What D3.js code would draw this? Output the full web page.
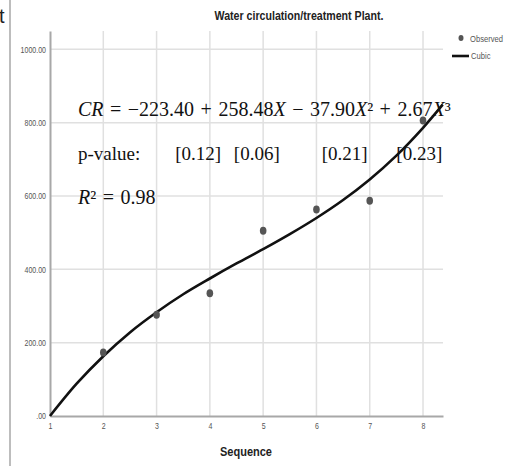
<!DOCTYPE html>
<html>
<head>
<meta charset="utf-8">
<script src="https://cdn.jsdelivr.net/npm/d3@7"></script>
<style>
  body { margin: 0; background: #fff; }
  svg { display: block; }
  .narrow { font-family: "Liberation Sans Narrow", "Arial Narrow", "Liberation Sans", sans-serif; }
</style>
</head>
<body>
<div id="chart-wrapper"></div>
<script>
// observed values
var seq = [2, 3, 4, 5, 6, 7, 8];
var observed = [173, 276, 335, 505, 563, 587, 806];

// fitted cubic line
var fitX = [1, 1.5, 2, 2.5, 3, 3.5, 4, 4.5, 5, 5.5, 6, 6.5, 7, 7.5, 8, 8.37];
var fitY = [0, 88, 163, 228, 283, 332, 375, 416, 455, 496, 540, 589, 645, 710, 786, 849];

var yTicks = [0, 200, 400, 600, 800, 1000];
var yTickLabels = [".00", "200.00", "400.00", "600.00", "800.00", "1000.00"];
var xTicks = [1, 2, 3, 4, 5, 6, 7, 8];
var pValues = ["[0.12]", "[0.06]", "[0.21]", "[0.23]"];
var pValueAt = [3.35, 4.45, 6.1, 7.5];

var W = 506, H = 466;
var margin = {top: 31, right: 63, bottom: 50, left: 50},
    width = W - margin.left - margin.right,
    height = H - margin.top - margin.bottom;

// squeeze a text so a plain sans looks like the condensed face of the original
function squeeze(sel, f) {
  sel.each(function () {
    var len = this.getComputedTextLength();
    d3.select(this).attr("textLength", len * f).attr("lengthAdjust", "spacingAndGlyphs");
  });
}

var root = d3.select("#chart-wrapper")
  .append("svg")
    .attr("width", W)
    .attr("height", H);

// scrap of the page this figure was cut from
root.append("line")
  .attr("x1", 10).attr("x2", 10).attr("y1", 0).attr("y2", H)
  .attr("stroke", "#bdbdbd").attr("stroke-width", 2);
root.append("text")
  .attr("x", -1).attr("y", 23)
  .style("font-family", "Liberation Sans, sans-serif")
  .style("font-size", "20px")
  .attr("fill", "#222")
  .text("t");

var svg = root.append("g")
  .attr("transform", `translate(${margin.left},${margin.top})`);

var x = d3.scaleLinear().domain([1, 8.375]).range([0, width]);
var y = d3.scaleLinear().domain([0, 1050]).range([height, 0]);

// grid
svg.selectAll("vgrid").data(xTicks.slice(1)).enter()
  .append("line")
  .attr("x1", d => x(d)).attr("x2", d => x(d))
  .attr("y1", 0).attr("y2", height)
  .attr("stroke", "#e0e0e0").attr("stroke-width", 1.5);
svg.selectAll("hgrid").data(yTicks.slice(1)).enter()
  .append("line")
  .attr("x1", 0).attr("x2", width)
  .attr("y1", d => y(d)).attr("y2", d => y(d))
  .attr("stroke", "#e0e0e0").attr("stroke-width", 1.5);

// axes
var xAxis = svg.append("g")
  .attr("transform", `translate(0,${height})`)
  .call(d3.axisBottom(x).tickValues(xTicks).tickFormat(d3.format("d")).tickSize(0).tickPadding(7));
var yAxis = svg.append("g")
  .call(d3.axisLeft(y).tickValues(yTicks).tickFormat((d, i) => yTickLabels[i]).tickSize(0).tickPadding(4));
[xAxis, yAxis].forEach(function (a) {
  a.select(".domain").attr("stroke", "#a8a8a8").attr("stroke-width", 2);
  a.selectAll("text")
    .attr("class", "narrow")
    .style("font-size", "9px")
    .attr("fill", "#555")
    .call(squeeze, 0.78);
});

// title and axis title
root.append("text")
  .attr("class", "narrow")
  .attr("x", 299).attr("y", 20)
  .attr("text-anchor", "middle")
  .style("font-size", "12px").style("font-weight", "bold")
  .attr("fill", "#222")
  .text("Water circulation/treatment Plant.")
  .attr("textLength", 169).attr("lengthAdjust", "spacingAndGlyphs");
root.append("text")
  .attr("class", "narrow")
  .attr("x", 246).attr("y", 456)
  .attr("text-anchor", "middle")
  .style("font-size", "12px").style("font-weight", "bold")
  .attr("fill", "#222")
  .text("Sequence")
  .attr("textLength", 52).attr("lengthAdjust", "spacingAndGlyphs");

// fitted line
svg.append("path")
  .datum(fitX.map((d, i) => [d, fitY[i]]))
  .attr("fill", "none")
  .attr("stroke", "#111")
  .attr("stroke-width", 2.6)
  .attr("d", d3.line().x(d => x(d[0])).y(d => y(d[1])).curve(d3.curveCatmullRom));

// observed points
svg.selectAll("pts").data(seq).enter()
  .append("ellipse")
  .attr("cx", d => x(d))
  .attr("cy", (d, i) => y(observed[i]))
  .attr("rx", 3.3).attr("ry", 4)
  .attr("fill", "#555");

// legend
var leg = root.append("g").attr("class", "narrow").style("font-size", "9.5px");
leg.append("ellipse").attr("cx", 461).attr("cy", 38).attr("rx", 2.5).attr("ry", 3).attr("fill", "#555");
leg.append("text").attr("x", 470).attr("y", 42).attr("fill", "#555").text("Observed").call(squeeze, 0.8);
leg.append("line").attr("x1", 452).attr("x2", 469).attr("y1", 56).attr("y2", 56)
  .attr("stroke", "#111").attr("stroke-width", 2.6);
leg.append("text").attr("x", 471).attr("y", 59).attr("fill", "#555").text("Cubic").call(squeeze, 0.8);

// equation overlay
var serif = "'Liberation Serif', 'DejaVu Serif', serif";
var eqParts = [
  ["CR", true], [" = \u2212223.40 + 258.48", false], ["X", true],
  [" \u2212 37.90", false], ["X", true], ["\u00b2 + 2.67", false], ["X", true], ["\u00b3", false]
];
root.append("text")
  .attr("x", 78).attr("y", 116)
  .style("font-family", serif).style("font-size", "20px")
  .style("word-spacing", "1.5px").style("white-space", "pre")
  .attr("fill", "#111")
  .selectAll("tspan").data(eqParts).enter()
  .append("tspan")
  .style("font-style", d => d[1] ? "italic" : "normal")
  .text(d => d[0]);

root.append("text")
  .attr("x", 78).attr("y", 160)
  .style("font-family", serif).style("font-size", "19px")
  .attr("fill", "#111")
  .text("p-value:");
root.selectAll("pv").data(pValues).enter()
  .append("text")
  .attr("x", (d, i) => margin.left + x(pValueAt[i]))
  .attr("y", 160)
  .style("font-family", serif).style("font-size", "19px")
  .attr("fill", "#111")
  .text(d => d);

root.append("text")
  .attr("x", 78).attr("y", 204)
  .style("font-family", serif).style("font-size", "20px")
  .style("word-spacing", "1.5px")
  .attr("fill", "#111")
  .selectAll("tspan").data([["R", true], ["\u00b2 = 0.98", false]]).enter()
  .append("tspan")
  .style("font-style", d => d[1] ? "italic" : "normal")
  .text(d => d[0]);
</script>
</body>
</html>
